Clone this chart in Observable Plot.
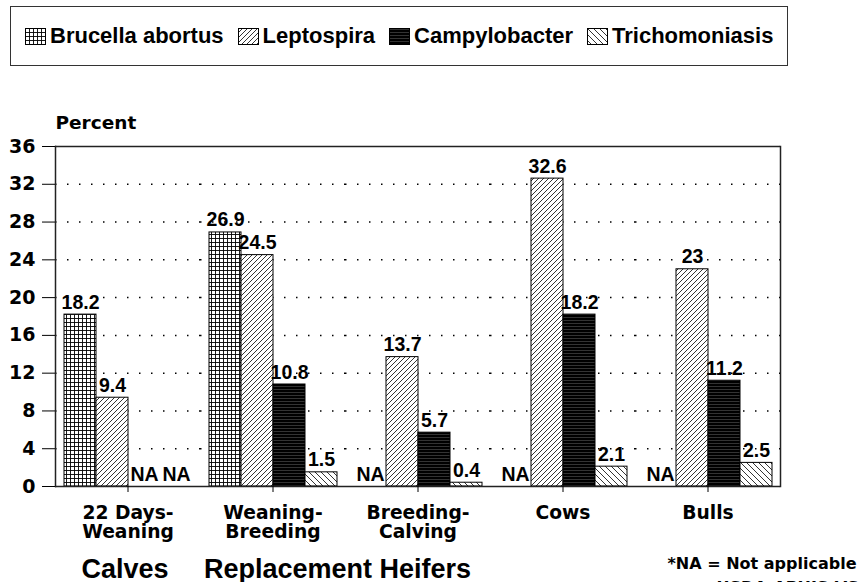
<!DOCTYPE html>
<html><head><meta charset="utf-8">
<script src="https://cdn.jsdelivr.net/npm/d3@7"></script>
<script src="https://cdn.jsdelivr.net/npm/@observablehq/plot@0.6"></script>
<style>
html,body{margin:0;padding:0;overflow:hidden;background:#fff;width:859px;height:582px}
body{font-family:"Liberation Sans",Arial,sans-serif;font-weight:bold;position:relative;color:#000}
#legend{position:absolute;left:10px;top:6px;width:778px;height:60px;box-sizing:border-box;border:1px solid #333;display:flex;align-items:center;padding-left:14px;font-size:22px;white-space:pre}
#legend .item{display:flex;align-items:center;margin-right:14px}
#legend svg{margin-right:4px}
#chart{position:absolute;left:0;top:70px}
</style></head>
<body>
<svg width="0" height="0" style="position:absolute">
  <defs>
    <pattern id="pBru" patternUnits="userSpaceOnUse" width="4" height="4">
      <rect width="4" height="4" fill="#fff"/>
      <path d="M0 0.5H4M0.5 0V4" stroke="#000" stroke-width="0.9"/>
    </pattern>
    <pattern id="pLep" patternUnits="userSpaceOnUse" width="5" height="5">
      <rect width="5" height="5" fill="#fff"/>
      <path d="M0 5L5 0M-1 1L1 -1M4 6L6 4" stroke="#000" stroke-width="0.8"/>
    </pattern>
    <pattern id="pCam" patternUnits="userSpaceOnUse" width="4" height="3">
      <rect width="4" height="3" fill="#000"/>
      <path d="M0 1.5H4" stroke="#555" stroke-width="0.6"/>
    </pattern>
    <pattern id="pTri" patternUnits="userSpaceOnUse" width="6" height="6">
      <rect width="6" height="6" fill="#fff"/>
      <path d="M0 0L6 6M-1 5L1 7M5 -1L7 1" stroke="#000" stroke-width="0.8"/>
    </pattern>
  </defs>
</svg>
<div id="legend"></div>
<div id="chart"></div>
<script>
const groups = ["22 Days-Weaning", "Weaning-Breeding", "Breeding-Calving", "Cows", "Bulls"];
const groupLabels = ["22 Days-\nWeaning", "Weaning-\nBreeding", "Breeding-\nCalving", "Cows", "Bulls"];
const series = ["Brucella abortus", "Leptospira", "Campylobacter", "Trichomoniasis"];
const brucella = [18.2, 26.9, null, null, null];
const leptospira = [9.4, 24.5, 13.7, 32.6, 23];
const campylobacter = [null, 10.8, 5.7, 18.2, 11.2];
const trichomoniasis = [null, 1.5, 0.4, 2.1, 2.5];
const yTicks = [0, 4, 8, 12, 16, 20, 24, 28, 32, 36];
const gridTicks = [4, 8, 12, 16, 20, 24, 28, 32];
const patterns = ["url(#pBru)", "url(#pLep)", "url(#pCam)", "url(#pTri)"];

const valuesBySeries = [brucella, leptospira, campylobacter, trichomoniasis];
const rows = [];
series.forEach((s, si) => groups.forEach((g, gi) => rows.push({group: g, series: s, value: valuesBySeries[si][gi]})));

// legend
const legend = document.getElementById("legend");
series.forEach((s, i) => {
  const item = document.createElement("div");
  item.className = "item";
  item.innerHTML = `<svg width="21" height="17"><rect x="0.5" y="0.5" width="20" height="16" fill="${patterns[i]}" stroke="#000" stroke-width="1"/></svg><span>${s}</span>`;
  legend.appendChild(item);
});

const ann = (t, g) => [{g, t}];
const wide = "DejaVu Sans";
const narrow = "Liberation Sans";

const chart = Plot.plot({
  width: 859,
  height: 528,
  marginTop: 76,
  marginBottom: 112,
  marginLeft: 53,
  marginRight: 77,
  style: {fontFamily: wide, fontWeight: "bold", fontSize: "18px", color: "#000", background: "transparent", overflow: "visible"},
  fx: {domain: groups, padding: 0, label: null},
  x: {domain: series, paddingInner: 0, paddingOuter: 0.2, axis: null},
  y: {domain: [0, 36], label: null},
  color: {type: "ordinal", domain: series, range: patterns},
  marks: [
    Plot.gridY(gridTicks, {stroke: "#000", strokeOpacity: 1, strokeWidth: 1.5, strokeDasharray: "1.5,10.5"}),
    Plot.barY(rows.filter(d => d.value != null), {fx: "group", x: "series", y: "value", fill: "series", stroke: "#000", strokeWidth: 1}),
    Plot.text(rows, {fx: "group", x: "series", y: d => d.value ?? 0, text: d => d.value == null ? "NA" : String(d.value), lineAnchor: "bottom", dy: -6, fontFamily: narrow, fontSize: 19.5, fontWeight: "bold"}),
    Plot.ruleY([0, 36], {stroke: "#222", strokeWidth: 1.5}),
    Plot.frame({anchor: "left", facetAnchor: "left", stroke: "#222", strokeWidth: 1.5}),
    Plot.frame({anchor: "right", facetAnchor: "right", stroke: "#222", strokeWidth: 1.5}),
    Plot.axisY({ticks: yTicks, tickSize: 13, tickPadding: 7, fontSize: 19, label: null}),
    Plot.axisFx({anchor: "bottom", tickSize: 6, tickPadding: 12, tickFormat: g => groupLabels[groups.indexOf(g)], fontSize: 18.7, lineHeight: 1.06, label: null}),
    Plot.text(ann("Percent", groups[0]), {fx: "g", text: "t", frameAnchor: "top-left", textAnchor: "start", lineAnchor: "bottom", dy: -18, fontSize: 18.5}),
    Plot.text(ann("Calves", groups[0]), {fx: "g", text: "t", frameAnchor: "bottom", lineAnchor: "bottom", dx: -3, dy: 91, fontFamily: narrow, fontSize: 27}),
    Plot.text(ann("Replacement Heifers", groups[1]), {fx: "g", text: "t", frameAnchor: "bottom-right", textAnchor: "middle", lineAnchor: "bottom", dx: -8, dy: 91, fontFamily: narrow, fontSize: 27}),
    Plot.text(ann("*NA = Not applicable", groups[4]), {fx: "g", text: "t", frameAnchor: "bottom-right", textAnchor: "end", lineAnchor: "bottom", dx: 76, dy: 82, fontSize: 16}),
    Plot.text(ann("USDA:APHIS:VS", groups[4]), {fx: "g", text: "t", frameAnchor: "bottom-right", textAnchor: "start", lineAnchor: "bottom", dx: -64, dy: 106, fontSize: 16})
  ]
});
document.getElementById("chart").appendChild(chart);
</script>
</body></html>
